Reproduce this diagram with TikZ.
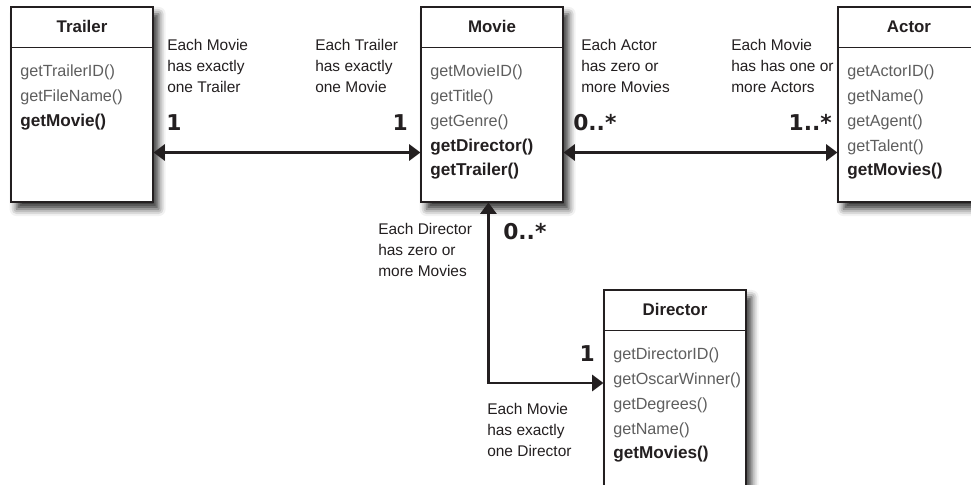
\documentclass[tikz,border=0pt]{standalone}
\usepackage{fontspec}
\setmainfont{Liberation Sans}
\newfontfamily\multfont{DejaVu Sans}
\usetikzlibrary{arrows.meta,shadows.blur}

\definecolor{inkdark}{HTML}{231F20}
\definecolor{methodgray}{HTML}{5E5E5E}

\tikzset{
  classbox/.style={draw=inkdark, line width=0.8pt, fill=white, inner sep=0pt,
    minimum width=3.55cm, minimum height=4.875cm,
    blur shadow={shadow xshift=4pt, shadow yshift=-5pt, shadow blur radius=5pt, shadow opacity=80}},
  classname/.style={font=\fontsize{12}{14}\selectfont\bfseries, text=inkdark},
  methods/.style={align=left, anchor=north west, inner sep=0pt,
    font=\fontsize{11.5}{17.6}\selectfont, text=methodgray},
  note/.style={align=left, anchor=north west, inner sep=0pt,
    font=\fontsize{11}{14.6}\selectfont, text=inkdark},
  mult/.style={inner sep=0pt, font=\multfont\bfseries\fontsize{15.5}{18}\selectfont, text=inkdark},
  assoc/.style={line width=1.7pt, draw=inkdark,
    {Triangle[length=8pt,width=11.5pt]}-{Triangle[length=8pt,width=11.5pt]}}
}
\newcommand{\keymethod}[1]{{\fontsize{12.2}{17.6}\selectfont\bfseries\color{inkdark}#1}}

\begin{document}
\begin{tikzpicture}[x=0.025cm, y=-0.025cm]
    \useasboundingbox (0,0) rectangle (971,485);
    \clip (0,0) rectangle (971,485);

    % Klassen
    \node[classbox] (trailer) at (82,104.5) {};
    \node[classbox] (movie) at (492,104.5) {};
    \node[classbox] (actor) at (909,104.5) {};
    \node[classbox, minimum height=5cm] (director) at (675,390) {};

    % Titelzeilen
    \foreach \cls in {trailer, movie, actor, director}
        \draw[inkdark, line width=0.8pt] ([yshift=-1.025cm]\cls.north west) -- ([yshift=-1.025cm]\cls.north east);
    \node[classname] (trailerName) at ([yshift=-0.5cm]trailer.north) {Trailer};
    \node[classname] (movieName) at ([yshift=-0.5cm]movie.north) {Movie};
    \node[classname] (actorName) at ([yshift=-0.5cm]actor.north) {Actor};
    \node[classname] (directorName) at ([yshift=-0.5cm]director.north) {Director};

    % Methoden
    \node[methods] (trailerOps) at ([xshift=0.24cm, yshift=-1.46cm]trailer.north west)
        {getTrailerID()\\getFileName()\\\keymethod{getMovie()}};
    \node[methods] (movieOps) at ([xshift=0.24cm, yshift=-1.46cm]movie.north west)
        {getMovieID()\\getTitle()\\getGenre()\\\keymethod{getDirector()}\\\keymethod{getTrailer()}};
    \node[methods] (actorOps) at ([xshift=0.24cm, yshift=-1.46cm]actor.north west)
        {getActorID()\\getName()\\getAgent()\\getTalent()\\\keymethod{getMovies()}};
    \node[methods] (directorOps) at ([xshift=0.24cm, yshift=-1.46cm]director.north west)
        {getDirectorID()\\getOscarWinner()\\getDegrees()\\getName()\\\keymethod{getMovies()}};

    % Beziehungen
    \draw[assoc] ([yshift=-1.2cm]trailer.east) -- ([yshift=-1.2cm]movie.west);
    \draw[assoc] ([yshift=-1.2cm]movie.east) -- ([yshift=-1.2cm]actor.west);
    \draw[assoc] ([xshift=-0.09cm]movie.south) |- ([yshift=0.175cm]director.west);

    % Multiplizitaeten
    \node[mult, anchor=base west] (multTrailer) at (166,131) {1};
    \node[mult, anchor=base east] (multMovieT) at (408,131) {1};
    \node[mult, anchor=base west] (multMovieA) at (573,131) {0..*};
    \node[mult, anchor=base east] (multActor) at (832,131) {1..*};
    \node[mult, anchor=base west] (multMovieD) at (503,239) {0..*};
    \node[mult, anchor=base east] (multDirector) at (595,361) {1};

    % Erlaeuterungen
    \node[note] (noteTrailer) at (167,39.5) {Each Movie\\has exactly\\one Trailer};
    \node[note] (noteMovieT) at (315,39.5) {Each Trailer\\has exactly\\one Movie};
    \node[note] (noteMovieA) at (581,39.5) {Each Actor\\has zero or\\more Movies};
    \node[note] (noteActor) at (731,39.5) {Each Movie\\has has one or\\more Actors};
    \node[note] (noteMovieD) at (378,223.5) {Each Director\\has zero or\\more Movies};
    \node[note] (noteDirector) at (487,403.5) {Each Movie\\has exactly\\one Director};
\end{tikzpicture}
\end{document}
